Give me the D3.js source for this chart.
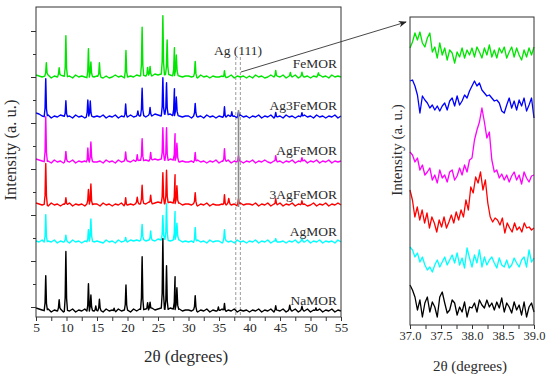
<!DOCTYPE html>
<html><head><meta charset="utf-8">
<script src="https://cdn.jsdelivr.net/npm/d3@7"></script>
<style>
body{margin:0;background:#fff}
svg{display:block}
svg text{font-family:"Liberation Serif","DejaVu Serif",serif !important;fill:#2b2b2b}
</style>
</head><body>
<svg id="c" width="550" height="379"></svg>
<script>
// ---------- DATA ----------
const seriesNames = ["FeMOR","Ag3FeMOR","AgFeMOR","3AgFeMOR","AgMOR","NaMOR"];
const seriesColors = ["#00e600","#0000ff","#ff00ff","#ff0000","#00ffff","#000000"];

// vertical stacking offsets (a.u.)
const leftOffsets  = [239,199,154,111,74,5];
const rightOffsets = [260,207,140,90,50,3];

// background of each full pattern, one digit every 0.5 deg from 5 to 55 (a.u.)
const baseFeMOR    = "3212302132"+"1203121021"+"2102013120"+"1213232324"+"3434323212"+"2120312021"+"1201302120"+"2031201312"+"1302130212"+"02131203121";
const baseAg3FeMOR = "5421302132"+"1203120221"+"2130213021"+"1312231324"+"3243423212"+"2031203120"+"2103120312"+"0213021301"+"2031202131"+"20312021302";
const baseAgFeMOR  = "4321203120"+"2130212021"+"1203120312"+"2131323234"+"3432432121"+"1203120213"+"0213021202"+"1302131021"+"2021302130"+"21302130212";
const base3AgFeMOR = "3212031202"+"1302120312"+"2031202130"+"1213232423"+"4323432312"+"2130213021"+"1203120312"+"2130213021"+"3021302120"+"13021302131";
const baseAgMOR    = "2130213021"+"2031202131"+"2103120312"+"1323242332"+"4343234312"+"1203120312"+"2031203120"+"2130213021"+"1202130213"+"02130212031";
const baseNaMOR    = "4321302130"+"2130213021"+"1203120312"+"2031323242"+"3432432312"+"2130213021"+"1302130212"+"0213021302"+"1302130213"+"02130213021";

// diffraction peaks [2theta, height (a.u.), half-width]
const peaksFeMOR = [[6.7,13],[8.8,8],[9.9,41],[13.6,29],[14.0,14],[15.4,14],[19.75,27],[22.4,48],[23.3,8],[23.7,9],[25.8,59],[26.5,34],[27.7,28,0.3],[28.0,20,0.3],[31.1,15],[35.9,7],[44.3,6],[46.7,4],[48.6,4],[51.3,3]];
const peaksAg3FeMOR = [[6.6,38],[9.9,16],[13.5,16],[13.9,15],[19.7,13],[21.7,5],[22.4,27],[23.7,8],[25.8,37],[26.4,32],[27.7,27,0.3],[28.0,18,0.3],[31.1,12],[35.9,11],[37.1,5],[38.2,5],[44.3,5],[48.6,4]];
const peaksAgFeMOR = [[6.6,45],[9.9,10],[13.5,15],[14.0,19],[19.7,9],[21.6,7],[22.4,22],[23.8,8],[25.8,32],[26.4,33],[27.8,27,0.3],[28.1,18,0.3],[31.1,10],[35.9,13],[38.2,6],[44.3,6],[48.6,4]];
const peaks3AgFeMOR = [[6.6,41],[9.9,7],[13.6,14],[14.0,21],[19.7,8],[21.6,6],[22.4,18],[23.8,8],[25.8,31],[26.4,33],[27.8,29,0.3],[28.1,18,0.3],[31.1,11],[35.9,11],[36.6,5],[38.2,6],[44.3,6],[48.6,4]];
const peaksAgMOR = [[6.6,28],[9.9,6],[13.6,12],[14.0,21],[19.7,4],[22.4,15],[23.8,9],[25.8,24],[26.4,36],[27.8,28,0.3],[28.1,16,0.3],[31.1,15],[35.9,11],[44.3,3],[48.6,3]];
const peaksNaMOR = [[6.6,35],[8.8,10],[9.9,59],[13.6,28],[14.0,15],[14.8,5],[15.4,11],[17.8,3],[19.75,25],[22.4,53],[23.3,7],[23.7,7],[25.8,70],[26.4,44],[27.8,33,0.3],[28.1,22,0.3],[31.1,14],[34.9,4],[35.9,8],[44.3,5],[46.6,5],[48.6,4],[50.9,3]];

// zoomed region 37-39 deg, evenly sampled (a.u. above offset)
const zoomFeMOR = [17,23,32,25,33,22,18,27,32,13,18,7,22,10,17,5,15,12,2,13,8,17,7,15,10,17,8,18,13,7,17,10,20,8,15,7,17,12,18,7,13,18,8,17,10,5,15,8,17,10,18];
const zoomAg3FeMOR = [37,38,32,23,5,22,18,15,10,13,8,12,7,12,15,8,17,20,12,22,13,17,23,20,27,32,37,32,35,28,25,22,23,20,17,18,15,7,5,13,20,10,17,8,18,12,20,7,13,20,0];
const zoomAgFeMOR = [33,30,23,27,15,20,10,13,17,5,10,2,15,7,10,3,13,15,5,9,17,10,20,13,25,27,45,55,63,77,63,47,53,25,13,15,7,11,5,10,3,9,13,5,10,1,13,7,3,9,10];
const zoom3AgFeMOR = [45,35,18,28,15,25,12,22,7,18,12,3,15,8,18,7,13,20,12,23,15,25,18,35,25,48,42,58,52,63,45,55,32,18,13,17,15,10,17,2,12,7,3,12,5,8,3,12,7,8,5,7];
const zoomAgMOR = [28,25,18,22,13,18,10,5,8,3,10,15,8,13,18,10,15,20,12,22,10,17,7,27,17,8,20,12,25,8,18,10,15,18,12,7,17,10,8,15,7,10,17,12,8,15,18,8,25,13,17];
const zoomNaMOR = [37,32,25,12,22,5,19,25,10,20,15,5,25,30,19,9,12,22,19,7,15,10,20,5,15,14,19,10,22,17,14,22,15,19,12,20,14,24,10,19,15,9,20,12,17,7,20,5,15,19,10];

const leftXTicks = d3.range(5, 55.01, 2.5);
const rightXTicks = d3.range(37, 39.001, 0.25);
const agLines = [37.75, 38.5];
const agPeak = 38.2;

const bases = [baseFeMOR, baseAg3FeMOR, baseAgFeMOR, base3AgFeMOR, baseAgMOR, baseNaMOR];
const peaks = [peaksFeMOR, peaksAg3FeMOR, peaksAgFeMOR, peaks3AgFeMOR, peaksAgMOR, peaksNaMOR];
const zooms = [zoomFeMOR, zoomAg3FeMOR, zoomAgFeMOR, zoom3AgFeMOR, zoomAgMOR, zoomNaMOR];

// ---------- DRAW ----------
const svg = d3.select("#c");
const FRAME = "#333";
const FONT = "'Liberation Serif','DejaVu Serif',serif";

const xL = d3.scaleLinear().domain([5,55]).range([36,341]);
const yL = d3.scaleLinear().domain([0,310]).range([317,7]);
const xR = d3.scaleLinear().domain([37,39]).range([410,534]);
const yR = d3.scaleLinear().domain([0,308]).range([325,17]);

function buildLeft(str, pk, off){
  const base = str.split("").map((c,i)=>[5+0.5*i, off + (+c)]);
  const baseAt = t => {
    let i = Math.max(0, Math.min(Math.floor((t-5)/0.5), base.length-2));
    const f = (t-5)/0.5 - i;
    return base[i][1]*(1-f) + base[i+1][1]*f;
  };
  let pts = base.slice();
  pk.forEach(([t,h,w=0.26])=>{
    pts = pts.filter(p => p[0] <= t-w || p[0] >= t+w);
    const b = baseAt(t);
    pts.push([t-w, baseAt(t-w)], [t-w*0.45, b+h*0.22], [t-w*0.12, b+h*0.85], [t, b+h],
             [t+w*0.12, b+h*0.8], [t+w*0.45, b+h*0.2], [t+w, baseAt(t+w)]);
  });
  pts.sort((a,b)=>a[0]-b[0]);
  return pts;
}

// dashed Ag(111) guide lines
svg.append("g").selectAll("line").data(agLines).join("line")
  .attr("x1", d=>xL(d)).attr("x2", d=>xL(d))
  .attr("y1", 57).attr("y2", yL(0))
  .attr("stroke","#9a9a9a").attr("stroke-width",1).attr("stroke-dasharray","3,2");

const lineL = d3.line().x(d=>xL(d[0])).y(d=>yL(d[1]));
svg.append("g").selectAll("path").data(seriesNames).join("path")
  .attr("d",(d,i)=>lineL(buildLeft(bases[i], peaks[i], leftOffsets[i])))
  .attr("fill","none").attr("stroke",(d,i)=>seriesColors[i])
  .attr("stroke-width",1.4).attr("stroke-linejoin","round");

// solid marker of Ag peak
svg.append("line").attr("x1",xL(agPeak)).attr("x2",xL(agPeak))
  .attr("y1",110).attr("y2",207).attr("stroke","#8a8a8a").attr("stroke-width",1.6);

// frame left
svg.append("rect").attr("x",36).attr("y",7).attr("width",305).attr("height",310)
  .attr("fill","none").attr("stroke",FRAME).attr("stroke-width",1);

// x axis left
const gxL = svg.append("g").attr("transform","translate(0,317)")
  .call(d3.axisBottom(xL).tickValues(leftXTicks).tickSize(4)
    .tickFormat(d => d%5===0 ? d : ""));
gxL.attr("font-family",FONT);
gxL.select(".domain").remove();
gxL.selectAll("line").attr("stroke",FRAME);
gxL.selectAll("text").attr("font-size",13.5).attr("dy","0.6em").attr("fill","#2b2b2b");

// y axis left (no labels)
const gyL = svg.append("g").attr("transform","translate(36,0)")
  .call(d3.axisLeft(yL).tickValues(d3.range(10,300,23)).tickFormat(""));
gyL.select(".domain").remove();
gyL.selectAll("line").attr("stroke",FRAME).attr("x2",(d,i)=> i%2===0 ? -5 : -3);

// series labels
const labelY = [68,110,155,199,236,305];
svg.append("g").selectAll("text").data(seriesNames).join("text")
  .attr("x",337).attr("y",(d,i)=>labelY[i]).attr("text-anchor","end")
  .attr("font-size",13.5).text(d=>d);

svg.append("text").attr("x",238).attr("y",55).attr("text-anchor","middle")
  .attr("font-size",13.5).text("Ag (111)");

// arrow
const defs = svg.append("defs");
defs.append("marker").attr("id","ah").attr("viewBox","0 0 10 10").attr("refX",9).attr("refY",5)
  .attr("markerWidth",9).attr("markerHeight",9).attr("orient","auto")
  .append("path").attr("d","M0,1 L10,5 L0,9 L3,5 Z").attr("fill","#222");
svg.append("line").attr("x1",241).attr("y1",72).attr("x2",406).attr("y2",22)
  .attr("stroke","#333").attr("stroke-width",0.9).attr("marker-end","url(#ah)");

// axis titles left
svg.append("text").attr("x",186).attr("y",362).attr("text-anchor","middle")
  .attr("font-size",17).text("2θ (degrees)");
svg.append("text").attr("transform","translate(16,150) rotate(-90)").attr("text-anchor","middle")
  .attr("font-size",16.5).text("Intensity (a. u.)");

// ---------- right panel ----------
const lineR = d3.line().x(d=>xR(d[0])).y(d=>yR(d[1]));
svg.append("g").selectAll("path").data(seriesNames).join("path")
  .attr("d",(d,i)=>{
    const arr = zooms[i], n = arr.length;
    return lineR(arr.map((v,j)=>[37 + j*2/(n-1), rightOffsets[i] + v]));
  })
  .attr("fill","none").attr("stroke",(d,i)=>seriesColors[i])
  .attr("stroke-width",1.3).attr("stroke-linejoin","round");

svg.append("rect").attr("x",410).attr("y",17).attr("width",124).attr("height",308)
  .attr("fill","none").attr("stroke",FRAME).attr("stroke-width",1);

const gxR = svg.append("g").attr("transform","translate(0,325)")
  .call(d3.axisBottom(xR).tickValues(rightXTicks).tickSize(4)
    .tickFormat(d => Math.abs(d*2-Math.round(d*2))<1e-6 ? d.toFixed(1) : ""));
gxR.attr("font-family",FONT);
gxR.select(".domain").remove();
gxR.selectAll("line").attr("stroke",FRAME);
gxR.selectAll("text").attr("font-size",12.5).attr("dy","0.6em").attr("fill","#2b2b2b");

svg.append("text").attr("x",470).attr("y",371).attr("text-anchor","middle")
  .attr("font-size",15).text("2θ (degrees)");
svg.append("text").attr("transform","translate(402,150) rotate(-90)").attr("text-anchor","middle")
  .attr("font-size",15).text("Intensity (a. u.)");
</script>
</body></html>
